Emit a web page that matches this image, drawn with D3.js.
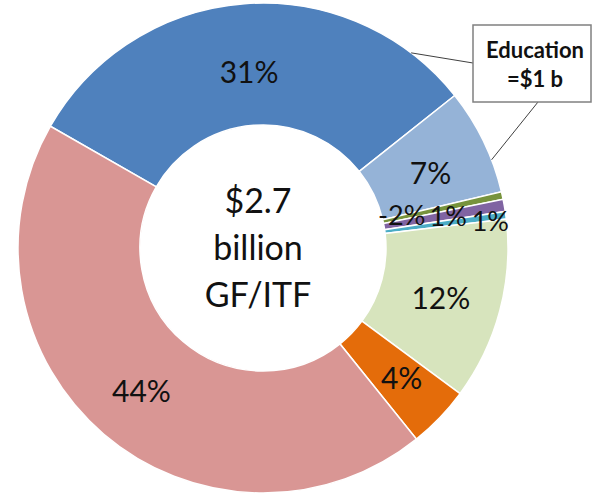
<!DOCTYPE html>
<html lang="en">
<head>
    <meta charset="UTF-8">
    <title>GF/ITF Donut</title>
    <script src="https://d3js.org/d3.v7.min.js"></script>
    <style>
        body { margin: 0; padding: 0; background: #fff; }
        svg { display: block; font-family: Lato, "Open Sans", sans-serif; }
    </style>
</head>
<body>
    <svg id="chart" width="592" height="498"></svg>

    <script>
        // slice shares (percent, as drawn), labels and colours
        const shares = [31, 7, 0.5, 0.8, 0.5, 12, 4.1, 44];
        const labels = ['31%', '7%', '-2%', '1%', '1%', '12%', '4%', '44%'];
        const colors = ['#4F81BD', '#95B3D7', '#77933C', '#8064A2', '#4BACC6', '#D7E4BD', '#E46C0A', '#D99694'];
        // nudges for the crowded small-slice labels
        const labelShift = [[0, 6], [2, 4], [-41, 6], [4, -1], [45, -3], [0, 2], [6, 2], [-2, 2]];
        const centerLines = ['$2.7', 'billion', 'GF/ITF'];
        const calloutLines = ['Education', '=$1 b'];

        const svg = d3.select('#chart');
        const cx = 263, cy = 248;
        const outerR = 245, innerR = 123;
        const start = -60.2 * Math.PI / 180;

        const g = svg.append('g').attr('transform', `translate(${cx},${cy})`);

        const pie = d3.pie().sort(null).value(d => d)
            .startAngle(start).endAngle(start + 2 * Math.PI);
        const arc = d3.arc().innerRadius(innerR).outerRadius(outerR);
        const labelArc = d3.arc().innerRadius(innerR + 50).outerRadius(outerR - 50);

        const arcs = pie(shares);

        g.selectAll('path.slice')
            .data(arcs)
            .enter().append('path')
            .attr('class', 'slice')
            .attr('d', arc)
            .attr('fill', (d, i) => colors[i])
            .attr('stroke', '#fff')
            .attr('stroke-width', 1.5);

        g.selectAll('text.lbl')
            .data(arcs)
            .enter().append('text')
            .attr('class', 'lbl')
            .attr('x', (d, i) => labelArc.centroid(d)[0] + labelShift[i][0])
            .attr('y', (d, i) => labelArc.centroid(d)[1] + labelShift[i][1])
            .attr('text-anchor', 'middle')
            .attr('dominant-baseline', 'central')
            .attr('font-size', (d, i) => (i >= 2 && i <= 4) ? 27 : 30)
            .attr('fill', '#111')
            .text((d, i) => labels[i]);

        // centre text
        g.selectAll('text.ctr')
            .data(centerLines)
            .enter().append('text')
            .attr('class', 'ctr')
            .attr('x', -5)
            .attr('y', (d, i) => -35 + i * 47)
            .attr('text-anchor', 'middle')
            .attr('font-size', 34)
            .attr('fill', '#111')
            .text(d => d);

        // callout for Education (blue + light blue slices)
        const box = { x: 473, y: 25, w: 118, h: 77 };
        const edge = a => [cx + outerR * Math.sin(a), cy - outerR * Math.cos(a)];
        const p1 = edge(37.2 * Math.PI / 180);
        const p2 = edge(68.9 * Math.PI / 180);

        svg.append('line')
            .attr('x1', box.x).attr('y1', 63)
            .attr('x2', p1[0]).attr('y2', p1[1])
            .attr('stroke', '#404040').attr('stroke-width', 1);
        svg.append('line')
            .attr('x1', 538).attr('y1', box.y + box.h)
            .attr('x2', p2[0]).attr('y2', p2[1])
            .attr('stroke', '#404040').attr('stroke-width', 1);

        svg.append('rect')
            .attr('x', box.x).attr('y', box.y)
            .attr('width', box.w).attr('height', box.h)
            .attr('fill', '#fff')
            .attr('stroke', '#808080')
            .attr('stroke-width', 1.5);

        svg.selectAll('text.call')
            .data(calloutLines)
            .enter().append('text')
            .attr('class', 'call')
            .attr('x', 535)
            .attr('y', (d, i) => 58 + i * 29)
            .attr('text-anchor', 'middle')
            .attr('font-size', 22)
            .attr('font-weight', 'bold')
            .attr('fill', '#111')
            .text(d => d);
    </script>
</body>
</html>
